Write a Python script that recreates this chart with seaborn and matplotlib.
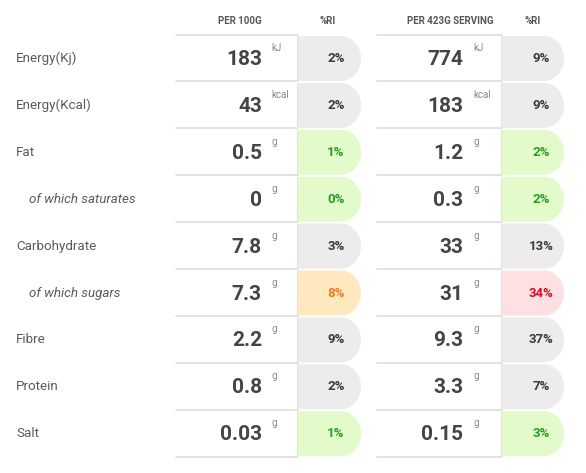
import matplotlib
matplotlib.use("Agg")
import matplotlib.pyplot as plt
from matplotlib.patches import Polygon
import numpy as np
import seaborn as sns

# nutrition data
nutrients = ["Energy(Kj)", "Energy(Kcal)", "Fat", "of which saturates", "Carbohydrate",
             "of which sugars", "Fibre", "Protein", "Salt"]
sub_rows = [False, False, False, True, False, True, False, False, False]
units = ["kJ", "kcal", "g", "g", "g", "g", "g", "g", "g"]
per_100g = ["183", "43", "0.5", "0", "7.8", "7.3", "2.2", "0.8", "0.03"]
ri_100g = ["2%", "2%", "1%", "0%", "3%", "8%", "9%", "2%", "1%"]
level_100g = ["none", "none", "low", "low", "none", "medium", "none", "none", "low"]
per_serving = ["774", "183", "1.2", "0.3", "33", "31", "9.3", "3.3", "0.15"]
ri_serving = ["9%", "9%", "2%", "2%", "13%", "34%", "37%", "7%", "3%"]
level_serving = ["none", "none", "low", "low", "none", "high", "none", "none", "low"]
headers = ["PER 100G", "%RI", "PER 423G SERVING", "%RI"]

pill_colors = {"none": ("#ececec", "#3a3a3a"),
               "low": ("#e3fbcb", "#24a124"),
               "medium": ("#fee8bf", "#ef7b18"),
               "high": ("#fde0e1", "#cc1128")}

sns.set_theme(style="white")
plt.rcParams['font.family'] = ['Roboto', 'DejaVu Sans']

fig = plt.figure(figsize=(5.86, 4.73), dpi=100)
ax = fig.add_axes([0, 0, 1, 1])
ax.set_xlim(0, 586)
ax.set_ylim(473, 0)
ax.axis("off")

top0 = 36
pitch = 46.9
row_h = 45


def pill(x0, x1, top, h, rx=20):
    # square left side, elliptical right end
    t = np.linspace(-np.pi / 2, np.pi / 2, 40)
    cx, cy = x1 - rx, top + h / 2
    arc = np.column_stack([cx + rx * np.cos(t), cy + (h / 2) * np.sin(t)])
    return np.vstack([[x0, top], arc, [x0, top + h]])


# column geometry: (value box left, value box right / pill left, pill right, value right, unit left, pct centre)
cols = [(176, 298, 361, 262, 271, 336),
        (377, 502, 564, 463, 473, 541)]
header_x = [240, 328, 450, 533]

for hx, h in zip(header_x, headers):
    ax.text(hx, 21, h, ha="center", va="center", fontsize=7, fontweight="bold", color="#555555")

for c, (vl, vr, pr, _, _, _) in enumerate(cols):
    ax.plot([vl, vr], [top0 - 1, top0 - 1], color="#dddddd", lw=1.2)

for i, name in enumerate(nutrients):
    top = top0 + pitch * i
    mid = top + row_h / 2
    lx = 29 if sub_rows[i] else 16
    ax.text(lx, mid, name, ha="left", va="center", fontsize=9.6,
            style="italic" if sub_rows[i] else "normal", color="#5a5a5a")

    data_cols = [(per_100g[i], ri_100g[i], level_100g[i]),
                 (per_serving[i], ri_serving[i], level_serving[i])]
    for (vl, vr, pr, vx, ux, px), (val, ri, lev) in zip(cols, data_cols):
        # value cell border
        ax.plot([vl, vr], [top + row_h + 0.5, top + row_h + 0.5], color="#dddddd", lw=1.2)
        ax.plot([vr - 1, vr - 1], [top, top + row_h], color="#e2e2e2", lw=0.8)
        ax.text(vx, mid + 1, val, ha="right", va="center", fontsize=15,
                fontweight="bold", color="#444444")
        ax.text(ux, top + 7, units[i], ha="left", va="top", fontsize=7, color="#8a8a8a")

        # %RI pill
        fill, txt = pill_colors[lev]
        ax.add_patch(Polygon(pill(vr, pr, top, row_h), closed=True, facecolor=fill,
                             edgecolor="none", zorder=2))
        ax.text(px, mid, ri, ha="center", va="center", fontsize=9.5, fontweight="bold",
                color=txt, zorder=3)

fig.savefig("out.png", dpi=100)
